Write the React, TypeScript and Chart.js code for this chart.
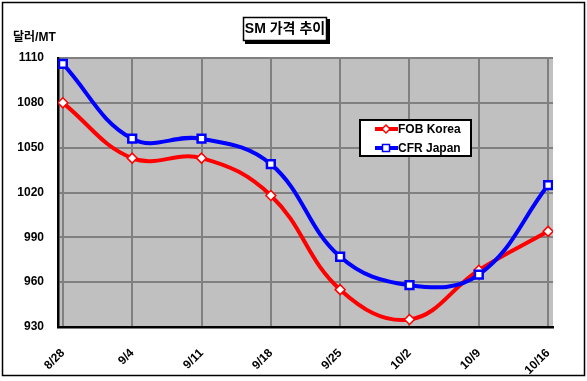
import React, { useEffect, useRef } from "react";
import { Chart, registerables } from "chart.js";

Chart.register(...registerables);

const categories = ["8/28", "9/4", "9/11", "9/18", "9/25", "10/2", "10/9", "10/16"];
const fobKorea = [1080, 1043, 1043, 1018, 955, 935, 968, 994];
const cfrJapan = [1106, 1056, 1056, 1039, 977, 958, 965, 1025];
const yTicks = [930, 960, 990, 1020, 1050, 1080, 1110];
const seriesNames = ["FOB Korea", "CFR Japan"];
const titleText = "SM 가격 추이";
const unitText = "달러/MT";

const FONT = "'Liberation Sans', Arial, 'Noto Sans CJK KR', sans-serif";

const decorPlugin = {
  id: "decor",
  beforeDraw(chart: any) {
    const { ctx, chartArea: a } = chart;
    ctx.save();
    ctx.fillStyle = "#ffffff";
    ctx.fillRect(0, 0, chart.width, chart.height);
    ctx.fillStyle = "#c0c0c0";
    ctx.fillRect(a.left, a.top, a.right - a.left, a.bottom - a.top);
    ctx.restore();
  },
  afterDatasetsDraw(chart: any) {
    const { ctx } = chart;
    ctx.save();
    // outer border
    ctx.strokeStyle = "#000";
    ctx.lineWidth = 1.5;
    ctx.strokeRect(2.5, 2.5, 582, 373);

    // title box with shadow
    ctx.fillStyle = "#000";
    ctx.fillRect(245, 19, 85, 25);
    ctx.fillStyle = "#fff";
    ctx.fillRect(243, 17, 84, 24);
    ctx.lineWidth = 1.5;
    ctx.strokeRect(243.5, 17.5, 83, 23);
    ctx.fillStyle = "#000";
    ctx.font = `bold 14px ${FONT}`;
    ctx.textAlign = "center";
    ctx.textBaseline = "middle";
    ctx.fillText(titleText, 285, 29.5);

    // unit
    ctx.font = `bold 12px ${FONT}`;
    ctx.textAlign = "left";
    ctx.fillText(unitText, 13, 38);

    // legend
    const lx = 359, ly = 119, lw = 113, lh = 38;
    ctx.fillStyle = "#fff";
    ctx.fillRect(lx, ly, lw, lh);
    ctx.strokeStyle = "#000";
    ctx.lineWidth = 2;
    ctx.strokeRect(lx + 1, ly + 1, lw - 2, lh - 2);
    const items = [
      { name: seriesNames[0], color: "#ff0000", style: "diamond", y: ly + 10 },
      { name: seriesNames[1], color: "#0000ff", style: "square", y: ly + 29 },
    ];
    items.forEach((it) => {
      ctx.strokeStyle = it.color;
      ctx.lineWidth = 4;
      ctx.beginPath();
      ctx.moveTo(375, it.y);
      ctx.lineTo(398, it.y);
      ctx.stroke();
      ctx.fillStyle = "#fff";
      ctx.lineWidth = 1.5;
      ctx.beginPath();
      if (it.style === "diamond") {
        ctx.moveTo(386, it.y - 4);
        ctx.lineTo(390, it.y);
        ctx.lineTo(386, it.y + 4);
        ctx.lineTo(382, it.y);
        ctx.closePath();
      } else {
        ctx.rect(382.5, it.y - 3.5, 7, 7);
      }
      ctx.fill();
      ctx.stroke();
      ctx.fillStyle = "#000";
      ctx.font = `bold 12px ${FONT}`;
      ctx.textAlign = "left";
      ctx.textBaseline = "middle";
      ctx.fillText(it.name, 398, it.y + 0.5);
    });
    ctx.restore();
  },
};

export default function App() {
  const ref = useRef<HTMLCanvasElement | null>(null);
  useEffect(() => {
    document.body.style.margin = "0";
    const chart = new Chart(ref.current as HTMLCanvasElement, {
      type: "line",
      data: {
        datasets: [
          {
            label: seriesNames[0],
            data: fobKorea.map((v, i) => ({ x: i, y: v })),
            borderColor: "#ff0000",
            borderWidth: 4,
            tension: 0.4,
            pointStyle: "rectRot",
            pointRadius: 5,
            pointBackgroundColor: "#ffffff",
            pointBorderColor: "#ff0000",
            pointBorderWidth: 1.5,
            order: 1,
          },
          {
            label: seriesNames[1],
            data: cfrJapan.map((v, i) => ({ x: i, y: v })),
            borderColor: "#0000ff",
            borderWidth: 4,
            tension: 0.4,
            pointStyle: "rect",
            pointRadius: 5.5,
            pointBackgroundColor: "#ffffff",
            pointBorderColor: "#0000ff",
            pointBorderWidth: 2.5,
            order: 0,
          },
        ],
      },
      options: {
        animation: false,
        responsive: false,
        devicePixelRatio: 1,
        layout: { padding: { left: 0, top: 58, right: 34, bottom: 0 } },
        plugins: { legend: { display: false }, title: { display: false }, tooltip: { enabled: false } },
        scales: {
          x: {
            type: "linear",
            min: -0.07,
            max: 7.07,
            afterFit: (s: any) => { s.height = 54; },
            afterBuildTicks: (s: any) => {
              s.ticks = categories.map((_, i) => ({ value: i }));
            },
            grid: { color: "#808080", lineWidth: 2, drawTicks: false },
            border: { color: "#000", width: 2.5 },
            ticks: {
              autoSkip: false,
              minRotation: 45,
              maxRotation: 45,
              padding: 19,
              color: "#000",
              font: { family: FONT, size: 12, weight: "bold" },
              callback: (v: any) => categories[Math.round(Number(v))] ?? "",
            },
          },
          y: {
            min: 930,
            max: 1110,
            afterFit: (s: any) => { s.width = 58; },
            afterBuildTicks: (s: any) => {
              s.ticks = yTicks.map((v) => ({ value: v }));
            },
            grid: { color: "#808080", lineWidth: 2, drawTicks: false },
            border: { color: "#000", width: 2.5 },
            ticks: {
              padding: 14,
              color: "#000",
              font: { family: FONT, size: 12, weight: "bold" },
              callback: (v: any) => String(v),
            },
          },
        },
      } as any,
      plugins: [decorPlugin],
    });
    return () => chart.destroy();
  }, []);
  return <canvas ref={ref} width={587} height={381} style={{ display: "block" }} />;
}
